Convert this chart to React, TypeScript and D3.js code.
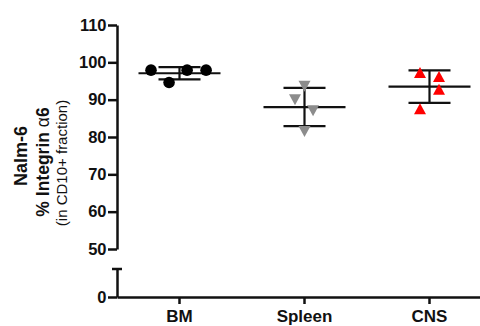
import React, { useEffect, useRef } from 'react';
import * as d3 from 'd3';

// tissue groups and their four measurements (% integrin a6 in CD10+ fraction)
const categories = ['BM', 'Spleen', 'CNS'];
const bmValues = [97.9, 94.6, 97.9, 97.9];
const spleenValues = [93.6, 90.0, 87.0, 81.5];
const cnsValues = [97.3, 96.2, 92.8, 87.6];
// horizontal scatter slot of each point inside its column
const bmJitter = [-1.5, -0.55, 0.4, 1.4];
const spleenJitter = [0, -0.5, 0.45, 0];
const cnsJitter = [-0.5, 0.5, 0.5, -0.5];
const upperTicks = [50, 60, 70, 80, 90, 100, 110];
const lowerTicks = [0];

const FONT = '"Liberation Sans", Arial, Helvetica, sans-serif';

const App = () => {
  const svgRef = useRef<SVGSVGElement>(null);

  useEffect(() => {
    const svg = d3.select(svgRef.current);
    svg.selectAll('*').remove();

    const width = 480;
    const height = 326;
    const axisX = 117;

    // Define scales: broken y axis (upper 50-110, lower 0 stub)
    const x = d3.scaleBand().domain(categories).range([axisX, 492]).padding(0);
    const yUp = d3.scaleLinear().domain([50, 110]).range([249, 25]);
    const yLow = d3.scaleLinear().domain([0, 7.5]).range([297, 269]);
    const jit = d3.scaleLinear().domain([-1, 1]).range([-19, 19]);

    const groups = [
      { name: 'BM', values: bmValues, jitter: bmJitter, shape: 'circle', color: '#000000' },
      { name: 'Spleen', values: spleenValues, jitter: spleenJitter, shape: 'down', color: '#8c8c8c' },
      { name: 'CNS', values: cnsValues, jitter: cnsJitter, shape: 'up', color: '#ff0000' },
    ];

    // Upper y axis
    const gUp = svg.append('g')
      .attr('transform', `translate(${axisX},0)`)
      .call(d3.axisLeft(yUp).tickValues(upperTicks).tickSize(9).tickSizeOuter(0).tickPadding(1.5));

    // Lower y axis segment
    const gLow = svg.append('g')
      .attr('transform', `translate(${axisX},0)`)
      .call(d3.axisLeft(yLow).tickValues(lowerTicks).tickSize(9).tickSizeOuter(0).tickPadding(1.5));
    gLow.append('line')
      .attr('x1', -5).attr('x2', 5)
      .attr('y1', yLow(7.5)).attr('y2', yLow(7.5))
      .attr('stroke', '#111').attr('stroke-width', 2.5);

    // X axis
    const gX = svg.append('g')
      .attr('transform', `translate(0,${yLow(0)})`)
      .call(d3.axisBottom(x).tickSize(7).tickSizeOuter(0).tickPadding(6));

    [gUp, gLow, gX].forEach(g => {
      g.selectAll('path, line').attr('stroke', '#111').attr('stroke-width', 2.5);
      g.selectAll('text')
        .attr('fill', '#111')
        .style('font-family', FONT)
        .style('font-weight', 'bold')
        .style('font-size', '16.5px');
    });
    gX.selectAll('text').style('font-size', '17px');

    // Error bars (mean +/- SD)
    groups.forEach(gr => {
      const cx = x(gr.name)! + x.bandwidth() / 2;
      const mean = d3.mean(gr.values)!;
      const sd = d3.deviation(gr.values)!;
      const g = svg.append('g').attr('stroke', '#111').attr('stroke-width', 2.2);
      g.append('line').attr('x1', cx - 41).attr('x2', cx + 41).attr('y1', yUp(mean)).attr('y2', yUp(mean));
      g.append('line').attr('x1', cx).attr('x2', cx).attr('y1', yUp(mean - sd)).attr('y2', yUp(mean + sd));
      [mean - sd, mean + sd].forEach(v => {
        g.append('line').attr('x1', cx - 21).attr('x2', cx + 21).attr('y1', yUp(v)).attr('y2', yUp(v));
      });
    });

    // Points
    const tri = (w: number, h: number, dir: string) =>
      dir === 'up'
        ? `M0,${-h / 2}L${w / 2},${h / 2}L${-w / 2},${h / 2}Z`
        : `M${-w / 2},${-h / 2}L${w / 2},${-h / 2}L0,${h / 2}Z`;

    groups.forEach(gr => {
      const cx = x(gr.name)! + x.bandwidth() / 2;
      gr.values.forEach((v, i) => {
        const px = cx + jit(gr.jitter[i]);
        const py = yUp(v);
        if (gr.shape === 'circle') {
          svg.append('circle').attr('cx', px).attr('cy', py).attr('r', 5.8).attr('fill', gr.color);
        } else {
          svg.append('path')
            .attr('transform', `translate(${px},${py})`)
            .attr('d', tri(12, 11, gr.shape))
            .attr('fill', gr.color);
        }
      });
    });

    // Y axis titles
    const title = svg.append('g').style('font-family', FONT).attr('fill', '#111').attr('text-anchor', 'middle');
    title.append('text')
      .attr('transform', 'translate(27,156) rotate(-90)')
      .style('font-weight', 'bold').style('font-size', '18px')
      .text('Nalm-6');
    const t2 = title.append('text')
      .attr('transform', 'translate(49,162) rotate(-90)')
      .style('font-weight', 'bold').style('font-size', '17.5px');
    t2.append('tspan').text('% Integrin ');
    t2.append('tspan').style('font-weight', 'normal').text('α');
    t2.append('tspan').text('6');
    title.append('text')
      .attr('transform', 'translate(67,163) rotate(-90)')
      .style('font-size', '15px')
      .text('(in CD10+ fraction)');

    svg.attr('width', width).attr('height', height);
  }, []);

  return (
    <svg ref={svgRef} width="480" height="326" style={{ position: 'absolute', left: 0, top: 0, background: '#fff' }}></svg>
  );
};

export default App;
